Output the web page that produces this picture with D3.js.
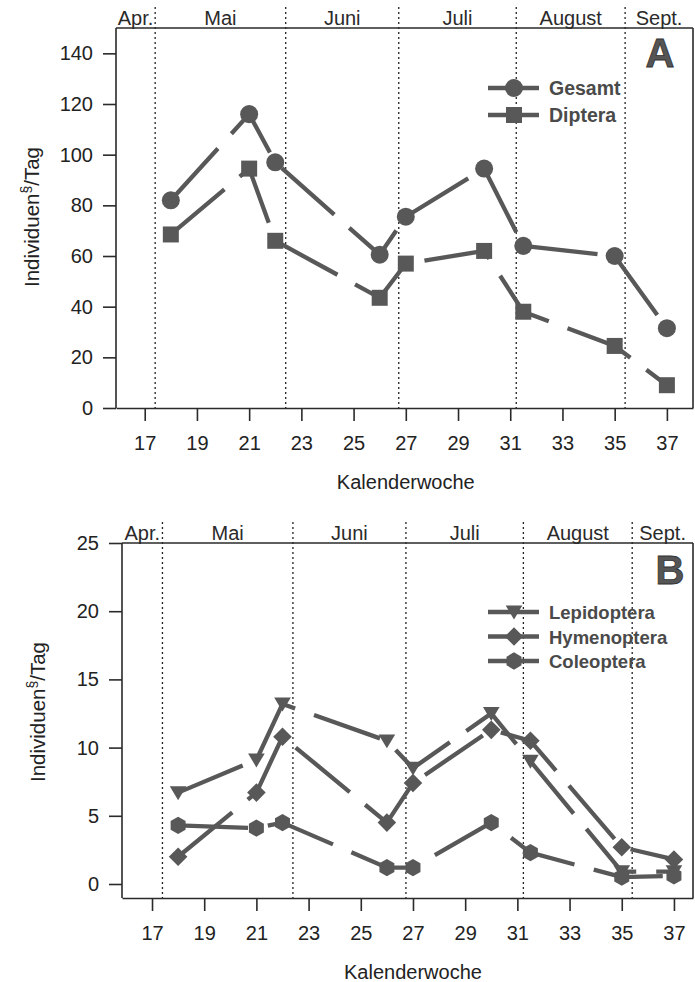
<!DOCTYPE html>
<html><head><meta charset="utf-8">
<script src="https://cdn.jsdelivr.net/npm/d3@7"></script>
<style>
html,body{margin:0;padding:0;background:#fff;}
svg{display:block;font-family:"Liberation Sans",Arial,sans-serif;}
</style></head>
<body>
<svg id="chart" width="695" height="982"></svg>
<script>
// ---- data ----
const weeks = [18, 21, 22, 26, 27, 30, 31.5, 35, 37];
const gesamt = [82, 116, 97, 60.5, 75.5, 94.5, 64, 60, 31.5];
const diptera = [68.5, 94.5, 66, 43.5, 57, 62, 38, 24.5, 9];
const lepidoptera = [6.7, 9.1, 13.2, 10.5, 8.5, 12.5, 9.0, 0.9, 0.9];
const hymenoptera = [2.0, 6.7, 10.8, 4.5, 7.4, 11.3, 10.5, 2.7, 1.8];
const coleoptera = [4.3, 4.1, 4.5, 1.2, 1.2, 4.5, 2.3, 0.5, 0.6];
const monthNames = ["Apr.", "Mai", "Juni", "Juli", "August", "Sept."];
const monthBounds = [17.4, 22.4, 26.73, 31.23, 35.4];
const xTicks = [17, 19, 21, 23, 25, 27, 29, 31, 33, 35, 37];
const yTicksA = [0, 20, 40, 60, 80, 100, 120, 140];
const yTicksB = [0, 5, 10, 15, 20, 25];
const xTitle = "Kalenderwoche";

const svg = d3.select("#chart");
const LINE = "#585858";
const AX = "#2a2a2a";

function markerPath(type, s) {
  const p = d3.path();
  if (type === "circle") { p.arc(0, 0, s * 0.53, 0, 2 * Math.PI); }
  else if (type === "square") { const h = s * 0.5; p.rect(-h, -h, 2 * h, 2 * h); }
  else if (type === "triangleDown") {
    const w = s * 0.52; p.moveTo(-w, -s * 0.4); p.lineTo(w, -s * 0.4); p.lineTo(0, s * 0.47); p.closePath();
  } else if (type === "diamond") {
    const h = s * 0.58; p.moveTo(0, -h); p.lineTo(h, 0); p.lineTo(0, h); p.lineTo(-h, 0); p.closePath();
  } else if (type === "hexagon") {
    const r = s * 0.54;
    for (let i = 0; i < 6; i++) {
      const a = Math.PI / 2 + i * Math.PI / 3;
      const px = r * Math.cos(a), py = r * Math.sin(a);
      if (i === 0) p.moveTo(px, py); else p.lineTo(px, py);
    }
    p.closePath();
  }
  return p.toString();
}

function panel(cfg) {
  const g = svg.append("g");
  const x = d3.scaleLinear().domain(cfg.xDomain).range([cfg.left, cfg.right]);
  const y = d3.scaleLinear().domain(cfg.yDomain).range([cfg.yBottom, cfg.yTop]);
  const top = y(cfg.yDomain[1]);

  // month boundary dotted lines
  g.selectAll("line.month").data(monthBounds).join("line")
    .attr("x1", d => x(d)).attr("x2", d => x(d))
    .attr("y1", top - 21).attr("y2", cfg.xAxisY)
    .attr("stroke", "#222").attr("stroke-width", 1.3).attr("stroke-dasharray", "2,3");

  // month labels
  const edges = [cfg.xDomain[0], ...monthBounds, cfg.xDomain[1]];
  g.selectAll("text.month").data(monthNames).join("text")
    .attr("x", (d, i) => x((edges[i] + edges[i + 1]) / 2))
    .attr("y", top - 3)
    .attr("text-anchor", "middle").attr("font-size", 20).attr("fill", "#2a2a2a")
    .text(d => d);

  // frame top and right
  g.append("line").attr("x1", cfg.left).attr("x2", cfg.right).attr("y1", top).attr("y2", top)
    .attr("stroke", AX).attr("stroke-width", 1.6);
  g.append("line").attr("x1", cfg.right).attr("x2", cfg.right).attr("y1", top).attr("y2", cfg.xAxisY)
    .attr("stroke", AX).attr("stroke-width", 1.6);

  // y axis
  const ya = g.append("g").attr("transform", `translate(${cfg.left},0)`)
    .call(d3.axisLeft(y).tickValues(cfg.yTicks).tickSize(13).tickSizeOuter(0).tickPadding(10));
  ya.select(".domain").remove();
  g.append("line").attr("x1", cfg.left).attr("x2", cfg.left).attr("y1", top).attr("y2", cfg.xAxisY)
    .attr("stroke", AX).attr("stroke-width", 1.6);

  // x axis
  const xa = g.append("g").attr("transform", `translate(0,${cfg.xAxisY})`)
    .call(d3.axisBottom(x).tickValues(xTicks).tickSize(13).tickSizeOuter(0).tickPadding(15));
  [ya, xa].forEach(a => {
    a.selectAll("line").attr("stroke", AX).attr("stroke-width", 1.6);
    a.select(".domain").attr("stroke", AX).attr("stroke-width", 1.6);
    a.selectAll("text").attr("font-size", 20).attr("fill", "#222").style("font-family", "Liberation Sans, Arial, sans-serif");
  });

  // axis titles
  g.append("text").attr("x", x(27)).attr("y", cfg.xTitleY).attr("text-anchor", "middle")
    .attr("font-size", 20).attr("fill", "#222").text(xTitle);
  const yt = g.append("text").attr("transform", `translate(${cfg.yTitleX},${cfg.yTitleY}) rotate(-90)`)
    .attr("text-anchor", "middle").attr("font-size", 20.5).attr("fill", "#222");
  yt.append("tspan").text("Individuen");
  yt.append("tspan").attr("font-size", 14).attr("dy", -8).text("§");
  yt.append("tspan").attr("dy", 8).text("/Tag");

  // series lines
  const line = d3.line().x(d => x(d[0])).y(d => y(d[1]));
  cfg.series.forEach(s => {
    const pts = weeks.map((w, i) => [w, s.values[i]]);
    g.append("path").attr("d", line(pts)).attr("fill", "none")
      .attr("stroke", LINE).attr("stroke-width", 4.3).attr("stroke-dasharray", "70,20")
      .attr("stroke-linecap", "butt");
  });
  cfg.series.forEach(s => {
    g.selectAll(null).data(weeks.map((w, i) => [w, s.values[i]])).join("path")
      .attr("d", markerPath(s.shape, s.size))
      .attr("transform", d => `translate(${x(d[0])},${y(d[1])})`)
      .attr("fill", LINE);
  });

  // legend
  cfg.series.forEach((s, i) => {
    const ly = cfg.legendY + i * cfg.legendStep;
    g.append("line").attr("x1", 488).attr("x2", 539).attr("y1", ly).attr("y2", ly)
      .attr("stroke", LINE).attr("stroke-width", 4.3);
    g.append("path").attr("d", markerPath(s.shape, s.size)).attr("transform", `translate(514,${ly})`).attr("fill", LINE);
    g.append("text").attr("x", 549).attr("y", ly + 7).attr("font-size", cfg.legendFont)
      .attr("font-weight", "bold").attr("fill", "#4a4a4a").text(s.name);
  });

  // panel letter
  g.append("text").attr("x", cfg.letterX).attr("y", cfg.letterY).attr("text-anchor", "middle")
    .attr("font-size", 40).attr("font-weight", "bold").attr("fill", "#555")
    .attr("stroke", "#333").attr("stroke-width", 0.8).text(cfg.letter);
}

panel({
  xDomain: [15.9, 38], left: 116, right: 693,
  yDomain: [0, 150], yBottom: 408, yTop: 28, xAxisY: 408, yTicks: yTicksA,
  xTitleY: 489, yTitleX: 39, yTitleY: 217,
  series: [
    { name: "Gesamt", values: gesamt, shape: "circle", size: 17 },
    { name: "Diptera", values: diptera, shape: "square", size: 16 }
  ],
  legendY: 88, legendStep: 27, legendFont: 19.5,
  letter: "A", letterX: 660, letterY: 67
});

panel({
  xDomain: [15.85, 37.73], left: 122, right: 693,
  yDomain: [0, 25], yBottom: 884, yTop: 543, xAxisY: 898, yTicks: yTicksB,
  xTitleY: 979, yTitleX: 45, yTitleY: 712,
  series: [
    { name: "Lepidoptera", values: lepidoptera, shape: "triangleDown", size: 16 },
    { name: "Hymenoptera", values: hymenoptera, shape: "diamond", size: 16 },
    { name: "Coleoptera", values: coleoptera, shape: "hexagon", size: 16 }
  ],
  legendY: 612, legendStep: 24.5, legendFont: 18.5,
  letter: "B", letterX: 670, letterY: 584
});
</script>
</body></html>
